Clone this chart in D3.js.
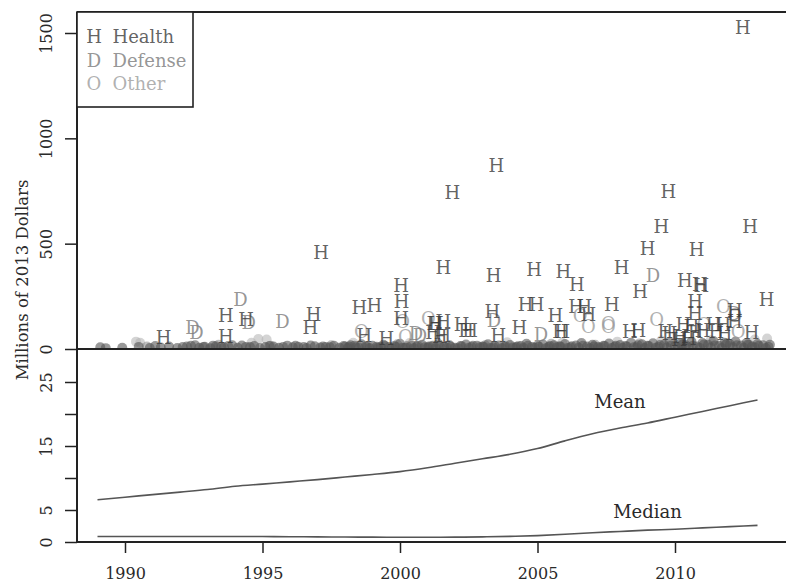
<!DOCTYPE html>
<html><head><meta charset="utf-8">
<script src="https://cdn.jsdelivr.net/npm/d3@7"></script>
<style>body{margin:0;background:#fff} svg{display:block} text{font-family:"DejaVu Serif",serif}</style>
</head><body><svg id="c" width="786" height="582"></svg>
<script>
const categories = ["Health", "Defense", "Other"];
const categoryLetters = ["H", "D", "O"];

// labelled projects [year, millions]
const healthPoints = [
  [2012.47,1528],[2003.5,870],[2001.9,742],[1997.13,459],[2009.76,747],[2009.5,581],[2012.73,581],
  [2009.0,478],[2010.79,470],[2008.06,388],[2008.73,275],[2010.36,323],[2010.9,304],[2010.96,300],
  [2013.33,233],[2001.58,388],[2003.4,351],[2004.88,378],[2005.94,367],[2006.43,304],[2000.04,299],
  [2000.06,225],[2000.04,146],[1998.52,196],[1999.07,206],[1996.86,165],[1993.67,157],[1994.4,138],
  [1996.74,101],[1991.4,55],[1993.67,60],[1998.7,66],[1999.5,51],[2001.25,122],[2001.3,120],
  [2001.58,130],[2001.45,58],[2001.2,77],[2002.24,114],[2002.4,90],[2002.55,90],[2003.36,177],
  [2003.58,63],[2004.57,212],[2004.97,209],[2004.34,103],[2005.65,161],[2005.82,85],[2005.9,85],
  [2007.7,209],[2006.4,201],[2006.7,201],[2006.85,165],[2008.36,82],[2008.67,90],[2010.73,225],
  [2010.73,169],[2012.18,185],[2012.18,130],[2012.79,77],[2009.8,74],[2009.65,82],[2010.3,114],
  [2010.2,58],[2010.6,106],[2010.75,82],[2011.0,90],[2011.4,114],[2011.5,82],[2011.76,114],
  [2011.8,74],[2010.5,51],[2010.15,43],[2001.58,66]
];
const defensePoints = [
  [1992.45,104],[1992.6,78],[1994.2,233],[1994.5,125],[1995.73,130],[2000.58,74],[2000.73,66],
  [2003.42,134],[2005.13,71],[2009.2,351],[2012.15,169]
];
const otherPoints = [
  [2000.1,130],[1998.6,82],[2000.2,58],[2001.03,146],[2006.55,157],[2006.85,106],[2007.58,106],
  [2007.58,120],[2009.33,138],[2011.76,204],[2012.18,161],[2012.3,82],[2011.05,114]
];

// small projects drawn as dots [year, millions]
const healthDots = [
  [1989.1,8],[1989.3,4],[1989.9,6],[1990.5,10],[1990.9,5],[1991.1,14],[1991.3,7],[1991.6,12],[1991.9,5],
  [1992.1,9],[1992.4,15],[1992.7,6],[1992.9,11],[1993.1,4],[1993.3,13],[1993.6,8],[1993.9,18],[1994.1,6],
  [1994.4,10],[1994.7,14],[1994.9,5],[1995.1,9],[1995.4,12],[1995.6,6],[1995.9,16],[1996.1,8],[1996.3,11],
  [1996.6,5],[1996.9,13],[1997.1,7],[1997.3,10],[1997.6,15],[1997.8,6],[1998.0,12],[1998.2,18],[1998.4,8],
  [1998.6,22],[1998.8,10],[1999.0,15],[1999.2,6],[1999.4,20],[1999.6,9],[1999.8,14],[2000.0,25],[2000.2,8],
  [2000.4,17],[2000.6,11],[2000.8,20],[2001.0,7],[2001.2,15],[2001.4,24],[2001.6,10],[2001.8,18],[2002.0,6],
  [2002.2,14],[2002.4,21],[2002.6,9],[2002.8,16],[2003.0,12],[2003.2,22],[2003.4,8],[2003.6,17],[2003.8,11],
  [2004.0,19],[2004.2,7],[2004.4,14],[2004.6,25],[2004.8,10],[2005.0,16],[2005.2,21],[2005.4,9],[2005.6,18],
  [2005.8,13],[2006.0,24],[2006.2,8],[2006.4,17],[2006.6,28],[2006.8,12],[2007.0,20],[2007.2,9],[2007.4,15],
  [2007.6,26],[2007.8,11],[2008.0,19],[2008.2,14],[2008.4,30],[2008.6,8],[2008.8,22],[2009.0,16],[2009.2,27],
  [2009.4,10],[2009.6,20],[2009.8,33],[2010.0,14],[2010.2,25],[2010.4,18],[2010.6,35],[2010.8,12],[2011.0,28],
  [2011.2,20],[2011.4,38],[2011.6,15],[2011.8,30],[2012.0,22],[2012.2,36],[2012.4,17],[2012.6,28],[2012.8,12],
  [2013.0,24],[2013.2,18],[2013.4,10],
  [1998.1,5],[1998.5,7],[1998.9,4],[1999.3,9],[1999.7,5],[2000.1,6],[2000.5,4],[2000.9,8],[2001.3,5],
  [2001.7,7],[2002.1,4],[2002.5,6],[2002.9,8],[2003.3,5],[2003.7,4],[2004.1,7],[2004.5,5],[2004.9,6],
  [2005.3,4],[2005.7,8],[2006.1,5],[2006.5,6],[2006.9,4],[2007.3,7],[2007.7,5],[2008.1,6],[2008.5,8],
  [2008.9,5],[2009.3,6],[2009.7,7],[2010.1,5],[2010.5,8],[2010.9,6],[2011.3,7],[2011.7,5],[2012.1,8],
  [2012.5,6],[2012.9,7],[2013.3,5],
  [1992.25,12],[1992.55,18],[1992.85,9],[1993.2,16],[1993.5,10],[1993.75,14],[1994.25,17],[1994.55,9],
  [1995.25,14],[1995.75,10],[1996.2,15],[1996.5,9],[1996.75,17],[1997.2,12],[1997.45,8],[1997.95,14],
  [1998.15,11],[1998.35,15],[1998.75,13],[1999.15,11],[1999.45,14],[1999.85,10],[2000.25,13],[2000.65,15],
  [2001.05,12],[2001.45,14],[2001.85,11],[2002.25,13],[2002.65,15],[2003.05,10],[2003.45,14],[2003.85,12],
  [2004.25,11],[2004.65,15],[2005.05,12],[2005.45,14],[2005.85,11],[2006.25,13],[2006.65,15],[2007.05,12],
  [2007.45,14],[2007.85,16],[2008.25,12],[2008.65,18],[2009.05,14],[2009.45,19],[2009.85,15],[2010.25,20],
  [2010.65,16],[2011.05,21],[2011.45,17],[2011.85,22],[2012.25,18],[2012.65,21],[2013.05,15],[2013.45,20]
];
const defenseDots = [
  [1990.8,12],[1993.4,20],[1995.3,15],[1997.5,18],[1999.9,22],[2001.1,12],[2003.1,18],[2004.3,14],
  [2005.5,25],[2007.1,20],[2008.7,26],[2010.3,22],[2011.9,28],[2012.7,20]
];
const otherDots = [
  [1990.4,35],[1990.55,30],[1994.85,48],[1995.15,45],[1994.6,30],[1998.3,30],[2000.35,28],[2003.9,32],
  [2005.9,30],[2007.9,35],[2009.5,40],[2011.3,42],[2012.9,45],[2013.35,50]
];

// bottom panel
const years = [1989,1990,1991,1992,1993,1994,1995,1996,1997,1998,1999,2000,2001,2002,2003,2004,2005,2006,2007,2008,2009,2010,2011,2012,2013];
const meanValues = [6.6,7.0,7.4,7.8,8.2,8.7,9.05,9.4,9.75,10.15,10.55,11.0,11.6,12.3,13.0,13.7,14.6,15.8,16.9,17.8,18.6,19.5,20.4,21.3,22.2];
const medianValues = [0.85,0.85,0.85,0.85,0.85,0.85,0.85,0.83,0.8,0.78,0.76,0.75,0.75,0.76,0.8,0.88,1.0,1.2,1.45,1.65,1.85,2.0,2.2,2.4,2.6];
const meanLabel = {text: "Mean", year: 2008, value: 20.9};
const medianLabel = {text: "Median", year: 2009, value: 3.8};

const topTicks = [0, 500, 1000, 1500];
const bottomTicks = [0, 5, 10, 15, 20, 25];
const bottomTickLabels = [0, 5, 15, 25];
const xTicks = [1990, 1995, 2000, 2005, 2010];
const yTitle = "Millions of 2013 Dollars";

const svg = d3.select("#c");
const W = 786;
const x = d3.scaleLinear().domain([1990, 2010]).range([125, 675]);
const yTop = d3.scaleLinear().domain([0, 1500]).range([349, 33]);
const yBot = d3.scaleLinear().domain([0, 25]).range([542, 382]);
const left = 77, topY = 12;

const fills = ["#3a3a3a", "#7a7a7a", "#9c9c9c"];
const op = 0.8;

svg.append("defs").append("clipPath").attr("id", "clipTop")
  .append("rect").attr("x", left).attr("y", topY).attr("width", W - left).attr("height", 349 - topY);
const gTop = svg.append("g").attr("clip-path", "url(#clipTop)");

const dotSets = [otherDots, defenseDots, healthDots];
const dotFills = ["#b0b0b0", "#888", "#555"];
const dotOp = [0.55, 0.55, 0.6];
dotSets.forEach((set, i) => {
  gTop.append("g").selectAll("circle").data(set).join("circle")
    .attr("cx", d => x(d[0])).attr("cy", d => yTop(d[1])).attr("r", 5)
    .attr("fill", dotFills[i]).attr("fill-opacity", dotOp[i]);
});

const pointSets = [otherPoints, defensePoints, healthPoints];
const setIdx = [2, 1, 0];
pointSets.forEach((set, k) => {
  const i = setIdx[k];
  gTop.append("g").selectAll("text").data(set).join("text")
    .attr("x", d => x(d[0])).attr("y", d => yTop(d[1])).attr("dy", "0.36em")
    .attr("text-anchor", "middle").attr("font-size", 18)
    .attr("fill", fills[i]).attr("fill-opacity", op)
    .text(categoryLetters[i]);
});

const line = vals => d3.line().x((d, i) => x(years[i])).y(d => yBot(d)).curve(d3.curveMonotoneX)(vals);
svg.append("path").attr("d", line(meanValues)).attr("fill", "none").attr("stroke", "#555").attr("stroke-width", 1.6);
svg.append("path").attr("d", line(medianValues)).attr("fill", "none").attr("stroke", "#555").attr("stroke-width", 1.6);
[meanLabel, medianLabel].forEach(l => {
  svg.append("text").attr("x", x(l.year)).attr("y", yBot(l.value)).attr("text-anchor", "middle")
    .attr("font-size", 18).attr("fill", "#2a2a2a").text(l.text);
});

const axTop = svg.append("g").attr("transform", `translate(${left},0)`)
  .call(d3.axisLeft(yTop).tickValues(topTicks).tickSize(12).tickFormat(d3.format("d")));
const axBot = svg.append("g").attr("transform", `translate(${left},0)`)
  .call(d3.axisLeft(yBot).tickValues(bottomTicks).tickSize(12)
    .tickFormat(d => bottomTickLabels.includes(d) ? d3.format("d")(d) : ""));
[axTop, axBot].forEach(ax => {
  ax.select(".domain").remove();
  ax.selectAll(".tick line").attr("stroke", "#222").attr("stroke-width", 1.5);
  ax.selectAll(".tick text").attr("x", null).attr("dy", null)
    .attr("transform", "translate(-25.5,0) rotate(-90)")
    .attr("text-anchor", "middle").attr("font-size", 16).attr("fill", "#2a2a2a")
    .attr("font-family", "DejaVu Serif");
});
const axX = svg.append("g").attr("transform", "translate(0,542)")
  .call(d3.axisBottom(x).tickValues(xTicks).tickSize(11).tickFormat(d3.format("d")));
axX.select(".domain").remove();
axX.selectAll(".tick line").attr("stroke", "#222").attr("stroke-width", 1.5);
axX.selectAll(".tick text").attr("y", 37).attr("dy", null).attr("font-size", 16)
  .attr("fill", "#2a2a2a").attr("font-family", "DejaVu Serif");

const frame = [[left, topY, left, 542], [left, topY, W, topY], [left, 349, W, 349], [left, 542, W, 542]];
svg.append("g").selectAll("line").data(frame).join("line")
  .attr("x1", d => d[0]).attr("y1", d => d[1]).attr("x2", d => d[2]).attr("y2", d => d[3])
  .attr("stroke", "#222").attr("stroke-width", 2);

const lg = svg.append("g");
lg.append("rect").attr("x", left).attr("y", topY).attr("width", 116).attr("height", 95)
  .attr("fill", "#fff").attr("stroke", "#222").attr("stroke-width", 1.6);
categories.forEach((c, i) => {
  lg.append("text").attr("x", 94).attr("y", 43 + i * 23.5).attr("text-anchor", "middle")
    .attr("font-size", 18).attr("fill", fills[i]).attr("fill-opacity", op).text(categoryLetters[i]);
  lg.append("text").attr("x", 112.5).attr("y", 43 + i * 23.5)
    .attr("font-size", 18).attr("fill", fills[i]).attr("fill-opacity", op).text(c);
});

svg.append("text").attr("transform", "translate(28,280) rotate(-90)").attr("text-anchor", "middle")
  .attr("font-size", 16.5).attr("fill", "#2a2a2a").text(yTitle);
</script></body></html>
